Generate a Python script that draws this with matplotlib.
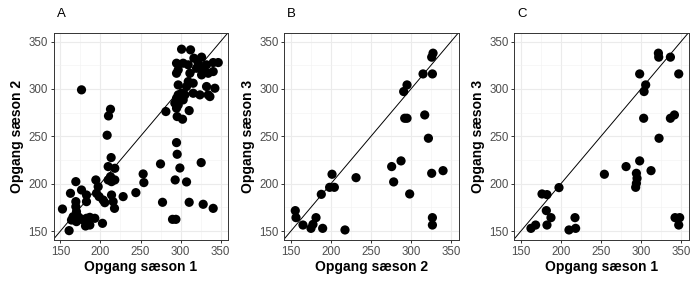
import matplotlib
matplotlib.use("Agg")
import matplotlib.pyplot as plt
from matplotlib.ticker import MultipleLocator

plt.rcParams['font.family'] = ['Liberation Sans', 'DejaVu Sans']

# Panel A: season 1 (x) vs season 2 (y)
a_x = [301.3, 312.5, 316.7, 326.3, 295.0, 303.3, 309.6, 322.1, 332.5, 340.8, 347.1,
       297.1, 295.0, 311.7, 320.0, 328.3, 326.3, 334.6, 340.8, 309.6, 315.8, 297.1,
       307.5, 332.5, 342.9, 297.1, 301.3, 305.4, 315.8, 324.2, 334.6, 336.7, 295.0,
       299.2, 303.3, 292.9, 297.1, 295.0, 310.8, 281.7, 295.8, 302.5,
       169.2, 162.5, 176.3, 182.5, 194.2, 197.1, 195.0, 198.3, 203.3, 205.4, 209.6,
       212.5, 217.9, 213.8, 217.9, 213.8, 215.8, 217.5, 228.3, 244.2, 253.3, 254.2,
       169.2, 169.2, 170.0, 182.5, 152.5, 165.8, 163.8, 172.1, 174.2, 178.3, 182.5,
       186.7, 192.9, 181.3, 186.7, 202.5, 160.8, 170.0,
       212.5, 210.0, 208.3, 213.3, 209.6,
       275.0, 295.0, 295.8, 299.2, 293.3, 307.5, 277.5, 310.8, 328.3, 340.8, 290.0,
       294.2, 325.8, 176.3]
a_y = [341.9, 341.2, 332.4, 333.5, 327.1, 327.1, 325.4, 327.1, 325.4, 327.8, 327.8,
       320.1, 316.5, 316.5, 321.8, 320.1, 314.8, 316.5, 318.3, 307.7, 306.0, 304.2,
       302.5, 302.5, 300.7, 293.7, 295.4, 293.7, 295.4, 293.7, 293.7, 291.9, 290.1,
       288.4, 288.4, 284.9, 283.1, 279.6, 277.1, 276.1, 270.8, 268.0,
       202.1, 189.8, 193.3, 188.0, 203.9, 196.8, 189.8, 186.3, 182.7, 179.9, 203.9,
       207.4, 216.2, 202.1, 203.9, 188.0, 181.0, 173.9, 186.3, 190.5, 210.2, 201.1,
       181.0, 175.7, 170.4, 181.0, 173.2, 165.1, 161.6, 165.1, 163.4, 161.6, 163.4,
       164.4, 163.4, 155.3, 156.3, 158.1, 150.4, 159.9,
       278.5, 271.5, 251.1, 227.5, 218.0,
       220.8, 243.3, 231.0, 216.5, 203.9, 201.8, 180.3, 180.3, 178.2, 173.9, 162.3,
       162.3, 222.2, 299.0]

# Panel B: season 2 (x) vs season 3 (y)
b_x = [155.4, 156.3, 165.0, 175.0, 177.5, 181.3, 189.6, 187.9, 201.3, 198.3, 204.2,
       217.5, 231.3, 275.8, 278.3, 287.5, 298.3, 290.8, 295.0, 292.1, 295.0, 315.0,
       326.7, 325.8, 327.5, 317.1, 321.7, 325.8, 340.0, 326.7, 326.7]
b_y = [171.5, 164.1, 156.3, 152.8, 157.0, 164.1, 152.8, 188.7, 209.9, 196.1, 196.1,
       151.1, 206.3, 218.0, 201.8, 224.0, 189.1, 297.2, 304.2, 269.0, 269.0, 315.8,
       315.8, 333.5, 337.7, 272.5, 247.9, 210.9, 213.7, 164.1, 156.3]

# Panel C: season 1 (x) vs season 3 (y)
c_x = [162.5, 168.3, 182.5, 181.7, 187.5, 176.3, 182.5, 197.5, 210.0, 218.3, 217.5,
       254.2, 281.3, 294.2, 295.0, 294.2, 293.3, 298.3, 312.5, 298.3, 305.8, 303.8,
       303.3, 322.5, 321.7, 322.1, 336.7, 347.1, 336.7, 341.7, 342.5, 348.3, 347.1]
c_y = [152.8, 156.3, 156.3, 171.5, 164.1, 189.1, 188.4, 195.8, 151.1, 152.8, 164.1,
       209.9, 218.0, 210.9, 205.6, 200.3, 196.1, 224.0, 213.7, 315.8, 304.2, 297.2,
       269.0, 247.9, 337.7, 333.5, 333.5, 315.8, 269.0, 272.5, 164.1, 164.1, 156.3]

panels = [
    ("A", a_x, a_y, "Opgang sæson 1", "Opgang sæson 2"),
    ("B", b_x, b_y, "Opgang sæson 2", "Opgang sæson 3"),
    ("C", c_x, c_y, "Opgang sæson 1", "Opgang sæson 3"),
]
ticks = [150, 200, 250, 300, 350]

W, H = 700, 286
fig = plt.figure(figsize=(7, 2.86), dpi=100)
lefts = [53.5, 284, 514]
top_px, bot_px, wpx = 33, 240, 174.5

for left, (tag, xs, ys, xl, yl) in zip(lefts, panels):
    ax = fig.add_axes([left / W, 1 - bot_px / H, wpx / W, (bot_px - top_px) / H])
    ax.set_xlim(141.3, 359.3)
    ax.set_ylim(140.5, 359.0)
    ax.set_xticks(ticks)
    ax.set_yticks(ticks)
    ax.xaxis.set_minor_locator(MultipleLocator(25))
    ax.yaxis.set_minor_locator(MultipleLocator(25))
    ax.grid(True, which='major', color='#EBEBEB', lw=0.8)
    ax.grid(True, which='minor', color='#F2F2F2', lw=0.4)
    ax.set_axisbelow(True)
    for s in ax.spines.values():
        s.set_color('#333333')
        s.set_linewidth(0.7)
    ax.tick_params(which='major', length=2.5, width=0.7, color='#333333',
                   labelcolor='#4D4D4D', labelsize=8.3, pad=1.5)
    ax.tick_params(which='minor', length=0)
    ax.axline((150, 150), slope=1, color='black', lw=0.7, zorder=2)
    ax.scatter(xs, ys, s=44, color='black', edgecolors='none', zorder=3)
    ax.set_xlabel(xl, fontsize=10, fontweight='bold', labelpad=1.5)
    ax.set_ylabel(yl, fontsize=10, fontweight='bold', labelpad=3)
    fig.text((left + 3) / W, 1 - 14 / H, tag, fontsize=9.5, va='center', ha='left')

fig.savefig("out.png", dpi=100)
